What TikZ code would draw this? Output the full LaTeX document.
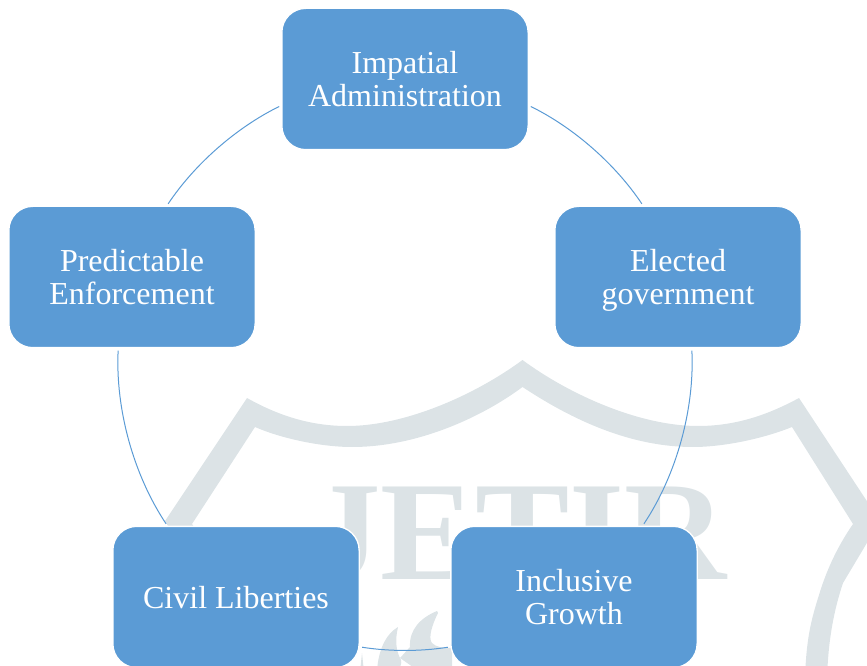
\documentclass[tikz,border=0pt]{standalone}
\usepackage{fontspec}
\setmainfont{Liberation Serif}
\usetikzlibrary{positioning}
\definecolor{cBox}{RGB}{91, 155, 213}
\definecolor{cMark}{RGB}{220, 227, 230}
\tikzset{
    % boxes round the circle
    cycleNode/.style={
        rectangle, rounded corners=18pt, fill=cBox, draw=white, line width=1pt,
        minimum width=184.75pt, minimum height=106pt, outer sep=0pt,
        align=center, text=white, text depth=0pt, font=\fontsize{24}{24.75}\selectfont
    },
    % arcs between the boxes
    arcConn/.style={
        draw=cBox, line width=0.75pt, looseness=0.85,
        shorten <=2.25pt, shorten >=2.25pt
    },
    % background mark
    markFill/.style={fill=cMark, draw=none}
}

\begin{document}
\begin{tikzpicture}[x=0.75pt, y=-0.75pt]

	\useasboundingbox (0,0) rectangle (867,666);
	\clip (0,0) rectangle (867,666);

	% 1. background mark
	\fill[markFill, even odd rule]
		(522.5,360) .. controls (570,395) and (640,426) .. (698,426)
		.. controls (740,426) and (773,412) .. (799,398)
		-- (880,521) -- (843,583) .. controls (834,610) and (828,640) .. (827,680)
		-- (218,680) .. controls (217,640) and (211,610) .. (202,583)
		-- (165,521) -- (247,398)
		.. controls (272,412) and (305,426) .. (347,426)
		.. controls (405,426) and (475,395) .. (522.5,360) -- cycle
		(522.5,387) .. controls (565,415) and (625,447) .. (693,447)
		.. controls (725,447) and (765,438) .. (792,427)
		-- (853,524) .. controls (835,550) and (825,575) .. (819,595)
		.. controls (811,620) and (806,640) .. (805,680)
		-- (240,680) .. controls (239,640) and (234,620) .. (226,595)
		.. controls (220,575) and (210,550) .. (192,524)
		-- (255,427) .. controls (280,438) and (320,447) .. (352,447)
		.. controls (420,447) and (485,415) .. (522.5,387) -- cycle;
	\node[text=cMark, font=\fontsize{106}{106}\bfseries\selectfont, inner sep=0pt, anchor=base west] (markText) at (310,579) {JETIR};

	% leaves under the arc
	\fill[markFill] (437,611) .. controls (420,618) and (409,630) .. (410,647)
		-- (400,658) -- (420,672) -- (452,672) -- (452,648)
		.. controls (442,648) and (436,647) .. (432,643)
		.. controls (428,638) and (432,625) .. (438,613) -- cycle;
	\fill[markFill] (398,627) .. controls (386,634) and (378,650) .. (377,672)
		-- (398,672) .. controls (402,664) and (402,660) .. (400,658)
		.. controls (396,650) and (395,640) .. (398,627) -- cycle;
	\fill[markFill] (362,653) -- (360,672) -- (364,672) -- cycle;

	% 2. boxes
	\node[cycleNode] (admin) at (405,79) {Impatial\\Administration};
	\node[cycleNode, below right=42.5pt and 20pt of admin] (elected) {Elected\\government};
	\node[cycleNode, below left=42.5pt and 20pt of admin] (predict) {Predictable\\Enforcement};
	\node[cycleNode, below=134pt of elected, xshift=-78pt] (growth) {Inclusive\\Growth};
	\node[cycleNode, below=134pt of predict, xshift=78pt] (civil) {Civil Liberties};

	% 3. arcs
	\draw[arcConn] (admin.-12.6) to[bend left=15] (elected.116);
	\draw[arcConn] (elected.-79.5) to[bend left=18.2] (growth.46);
	\draw[arcConn] (growth.202.4) to[bend left=9] (civil.-22);
	\draw[arcConn] (civil.134) to[bend left=18.2] (predict.259.8);
	\draw[arcConn] (predict.64) to[bend left=15] (admin.192.6);

\end{tikzpicture}
\end{document}
